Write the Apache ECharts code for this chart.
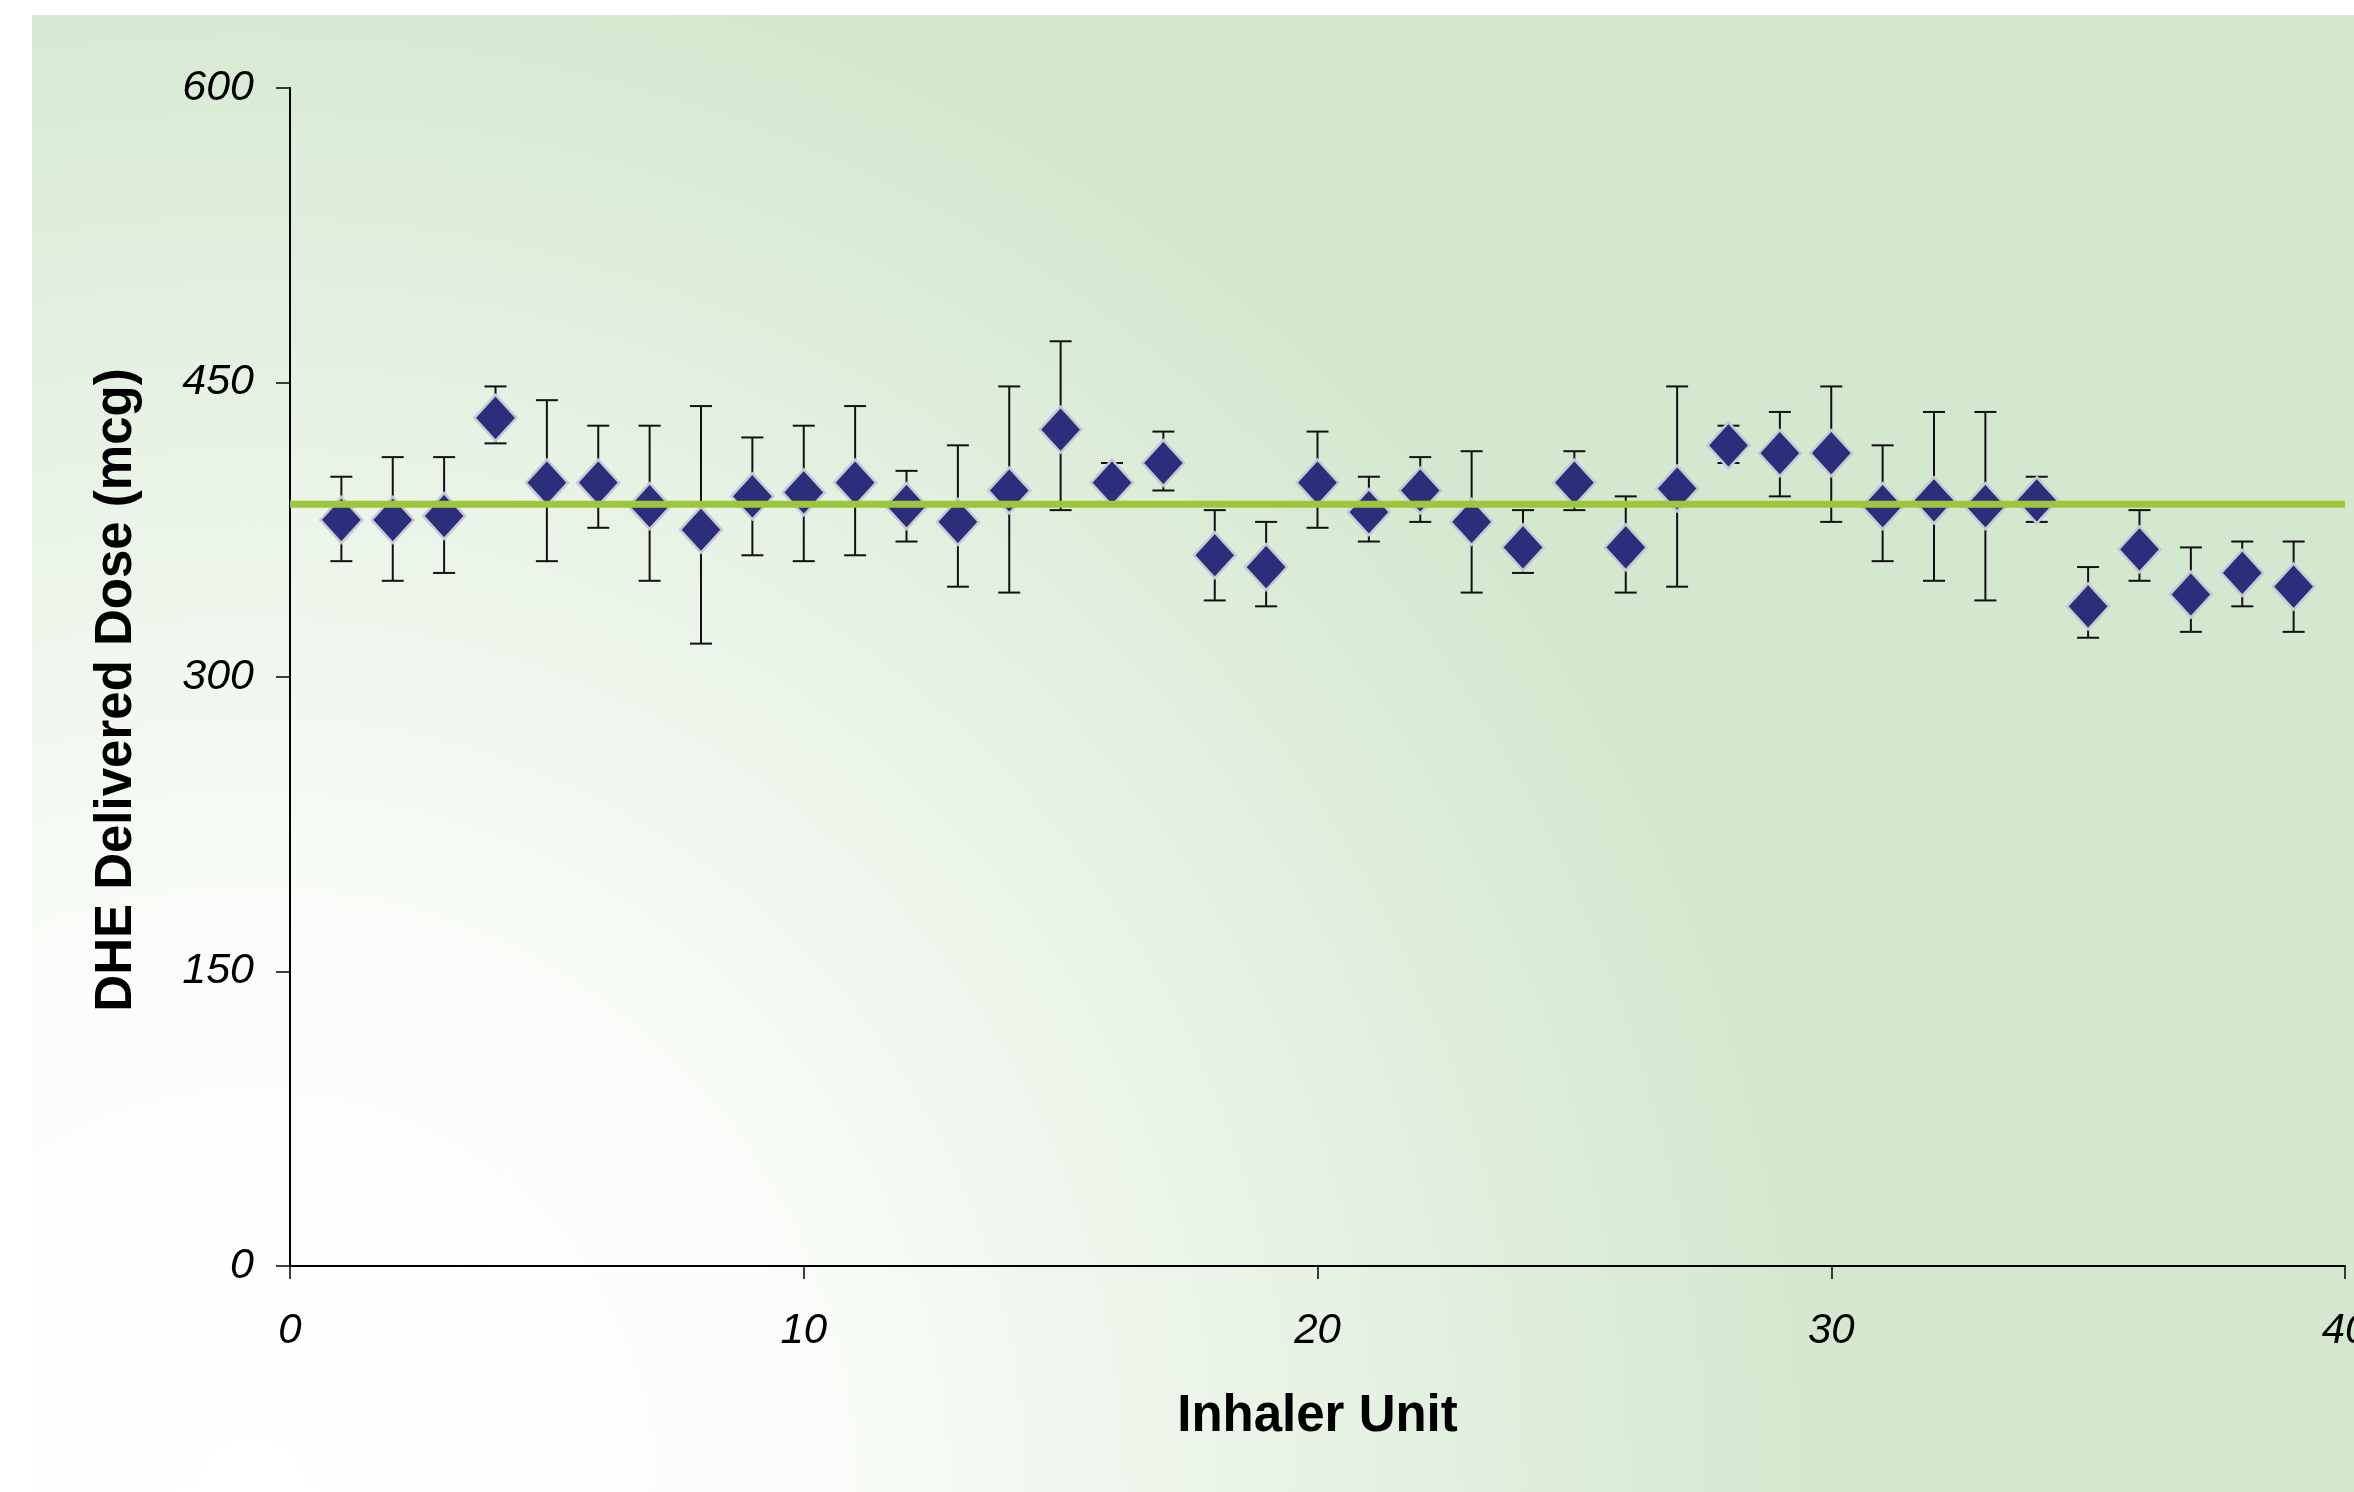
<!DOCTYPE html>
<html>
<head>
<meta charset="utf-8">
<script src="https://cdn.jsdelivr.net/npm/echarts@6/dist/echarts.min.js"></script>
<style>
  html, body { margin: 0; padding: 0; background: #ffffff; width: 2354px; height: 1492px; overflow: hidden; }
  #bg { position: absolute; left: 32px; top: 15px; width: 2322px; height: 1477px;
        background: radial-gradient(circle 1580px at 218px 1477px, #ffffff 0%, #fbfdfa 33%, #eef6ec 57%, #d9ebd5 90%, #d4e8cf 100%); }
  #chart { position: absolute; left: 0; top: 0; width: 2354px; height: 1492px; }
</style>
</head>
<body>
<div id="bg"></div>
<div id="chart"></div>
<script>
// ---- data ----
const units = [1,2,3,4,5,6,7,8,9,10,11,12,13,14,15,16,17,18,19,20,21,22,23,24,25,26,27,28,29,30,31,32,33,34,35,36,37,38,39];
const meanDose = [380,380,382,432,399,399,387,375,392,394,399,387,379,395,426,399,409,362,356,399,384,395,379,366,399,366,396,418,414,414,387,390,387,390,336,365,342,353,346];
const highDose = [402,412,412,448,441,428,428,438,422,428,438,405,418,448,471,409,425,385,379,425,402,412,415,385,415,392,448,428,435,448,418,435,435,402,356,385,366,369,369];
const lowDose  = [359,349,353,419,359,376,349,317,362,359,362,369,346,343,385,389,395,339,336,376,369,379,343,353,385,343,346,409,392,379,359,349,339,379,320,349,323,336,323];
const overallMean = 388;
const xRange = [0, 40];
const yTicks = [0, 150, 300, 450, 600];
const xTitle = 'Inhaler Unit';
const yTitle = 'DHE Delivered Dose (mcg)';

const chart = echarts.init(document.getElementById('chart'), null, { renderer: 'canvas' });

const scatterData = units.map((u, i) => [u, meanDose[i]]);
const errData = units.map((u, i) => [u, lowDose[i], highDose[i]]);
const meanLine = xRange.map(x => [x, overallMean]);

const titleFont = "'Liberation Sans', Arial, sans-serif";
const tickFont = "'Liberation Sans', Arial, sans-serif";

chart.setOption({
  animation: false,
  backgroundColor: 'transparent',
  grid: { left: 290, right: 9, top: 88, bottom: 226, containLabel: false, outerBoundsMode: 'none' },
  xAxis: {
    type: 'value', min: xRange[0], max: xRange[1], interval: 10,
    name: xTitle, nameLocation: 'middle', nameGap: 125,
    nameTextStyle: { fontFamily: titleFont, fontWeight: 'bold', fontSize: 51, color: '#000' },
    axisLine: { show: true, onZero: false, lineStyle: { color: '#000', width: 2 } },
    axisTick: { show: true, inside: false, length: 13, lineStyle: { color: '#000', width: 1.5 } },
    axisLabel: { fontFamily: tickFont, fontStyle: 'italic', fontSize: 42, color: '#000', margin: 44 },
    splitLine: { show: false }
  },
  yAxis: {
    type: 'value', min: yTicks[0], max: yTicks[yTicks.length - 1], interval: yTicks[1] - yTicks[0],
    name: yTitle, nameLocation: 'middle', nameGap: 148, nameRotate: 90,
    nameTextStyle: { fontFamily: titleFont, fontWeight: 'bold', fontSize: 51, color: '#000', padding: [0, 0, 0, -26] },
    axisLine: { show: true, onZero: false, lineStyle: { color: '#000', width: 2 } },
    axisTick: { show: true, inside: false, length: 14, lineStyle: { color: '#000', width: 1.5 } },
    axisLabel: { fontFamily: tickFont, fontStyle: 'italic', fontSize: 43, color: '#000', margin: 36 },
    splitLine: { show: false }
  },
  series: [
    {
      type: 'custom',
      z: 2,
      data: errData,
      encode: { x: 0, y: [1, 2] },
      renderItem: function (params, api) {
        const x = api.value(0);
        const pLo = api.coord([x, api.value(1)]);
        const pHi = api.coord([x, api.value(2)]);
        const half = 11;
        const st = { stroke: '#111', lineWidth: 2 };
        return {
          type: 'group',
          children: [
            { type: 'line', shape: { x1: pHi[0], y1: pHi[1], x2: pLo[0], y2: pLo[1] }, style: st },
            { type: 'line', shape: { x1: pHi[0] - half, y1: pHi[1], x2: pHi[0] + half, y2: pHi[1] }, style: st },
            { type: 'line', shape: { x1: pLo[0] - half, y1: pLo[1], x2: pLo[0] + half, y2: pLo[1] }, style: st }
          ]
        };
      }
    },
    {
      type: 'scatter',
      z: 3,
      data: scatterData,
      symbol: 'diamond',
      symbolSize: [42, 46],
      itemStyle: { color: '#2b2e7b', borderColor: '#c8c8d4', borderWidth: 2.5, opacity: 1 }
    },
    {
      type: 'line',
      z: 4,
      data: meanLine,
      symbol: 'none',
      lineStyle: { color: '#9ec63b', width: 7 }
    }
  ]
});
</script>
</body>
</html>
